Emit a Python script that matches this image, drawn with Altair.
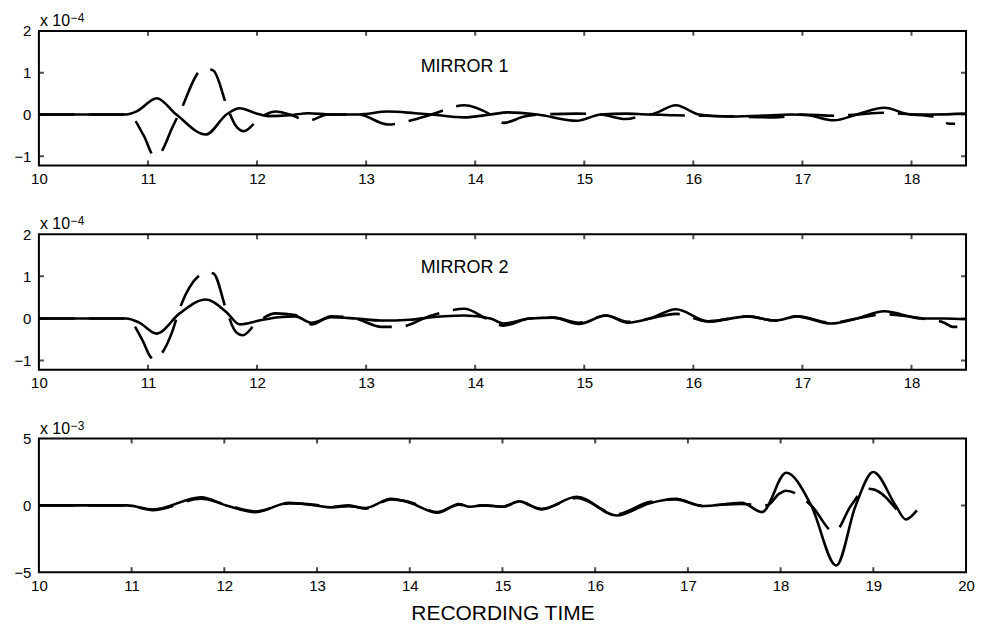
import altair as alt
import pandas as pd

FONT = "Liberation Sans"

# ---------------- MIRROR 1 (units of 1e-4) ----------------
M1_SOLID_T = [10.0, 10.8, 10.9, 11.08, 11.26, 11.53, 11.72, 11.84, 12.0, 12.1, 12.3, 12.47, 12.68,
              12.93, 13.2, 13.45, 13.6, 13.9, 14.14, 14.3, 14.57, 14.93, 15.15, 15.38, 15.6, 15.84,
              16.05, 16.3, 16.6, 16.9, 17.05, 17.29, 17.5, 17.75, 18.0, 18.2, 18.5]
M1_SOLID_V = [0.0, 0.0, 0.08, 0.39, 0.0, -0.48, 0.0, 0.15, 0.02, -0.04, -0.02, 0.03, 0.0,
              0.0, 0.07, 0.03, 0.0, -0.07, 0.0, 0.05, 0.0, -0.15, 0.0, 0.02, 0.0, 0.22,
              0.0, -0.05, -0.03, 0.0, -0.02, -0.14, 0.0, 0.16, 0.0, 0.0, 0.02]
M1_DASH_T = [10.0, 10.82, 10.96, 11.06, 11.12, 11.22, 11.3, 11.47, 11.53, 11.6, 11.73, 11.8, 11.88,
             12.0, 12.08, 12.17, 12.3, 12.47, 12.65, 12.93, 13.2, 13.4, 13.6, 13.9, 14.14, 14.26,
             14.45, 14.6, 14.93, 15.15, 15.38, 15.6, 15.84, 16.1, 16.4, 16.75, 17.0, 17.29, 17.5,
             17.75, 18.0, 18.2, 18.35, 18.4]
M1_DASH_V = [0.0, 0.0, -0.5, -1.0, -0.9, -0.33, 0.1, 1.03, 1.1, 1.05, 0.15, -0.25, -0.4,
             -0.15, 0.0, 0.07, 0.0, -0.15, 0.0, 0.0, -0.24, -0.15, 0.0, 0.22, 0.0, -0.2,
             -0.05, 0.0, 0.02, 0.0, -0.11, 0.0, -0.02, -0.03, -0.05, -0.07, 0.0, -0.03, 0.0,
             0.04, 0.0, -0.05, -0.22, -0.22]

# ---------------- MIRROR 2 (units of 1e-4) ----------------
M2_SOLID_T = [10.0, 10.8, 10.92, 11.08, 11.29, 11.53, 11.72, 11.84, 12.02, 12.2, 12.35, 12.5, 12.68,
              12.9, 13.14, 13.4, 13.6, 13.9, 14.14, 14.26, 14.5, 14.72, 14.95, 15.2, 15.4, 15.6,
              15.84, 16.14, 16.5, 16.75, 16.95, 17.26, 17.5, 17.75, 18.1, 18.3, 18.5]
M2_SOLID_V = [0.0, 0.0, -0.1, -0.36, 0.12, 0.45, 0.15, -0.14, -0.05, 0.03, 0.05, -0.1, 0.03,
              0.0, -0.05, -0.03, 0.03, 0.07, 0.0, -0.12, 0.0, 0.02, -0.13, 0.07, -0.1, 0.0,
              0.22, -0.07, 0.05, -0.05, 0.05, -0.12, 0.0, 0.17, 0.0, 0.0, -0.02]
M2_DASH_T = [10.0, 10.8, 10.95, 11.02, 11.06, 11.12, 11.22, 11.29, 11.47, 11.53, 11.6, 11.72, 11.8,
             11.87, 11.99, 12.17, 12.35, 12.5, 12.68, 12.9, 13.14, 13.3, 13.6, 13.9, 14.1, 14.26,
             14.5, 14.72, 14.95, 15.2, 15.4, 15.6, 15.84, 16.14, 16.5, 16.75, 16.95, 17.26, 17.5,
             17.75, 18.1, 18.3, 18.38, 18.42]
M2_DASH_V = [0.0, 0.0, -0.52, -0.9, -0.98, -0.85, -0.33, 0.23, 1.02, 1.1, 1.07, 0.19, -0.3,
             -0.4, -0.12, 0.12, 0.08, -0.14, 0.05, 0.0, -0.2, -0.2, 0.07, 0.23, 0.0, -0.17,
             0.0, 0.02, -0.1, 0.07, -0.08, 0.0, 0.11, -0.07, 0.05, -0.05, 0.05, -0.1, 0.0,
             0.1, 0.0, -0.1, -0.2, -0.2]

# ---------------- Bottom panel (units of 1e-3) ----------------
M3_SOLID_T = [10.0, 10.95, 11.23, 11.75, 12.02, 12.34, 12.7, 12.98, 13.16, 13.34, 13.52, 13.8, 14.0,
              14.3, 14.53, 14.65, 14.8, 15.0, 15.18, 15.42, 15.8, 16.23, 16.58, 16.87, 17.15, 17.58,
              17.8, 18.06, 18.33, 18.6, 18.81, 19.0, 19.24, 19.35, 19.47]
M3_SOLID_V = [0.0, 0.0, -0.3, 0.6, 0.0, -0.5, 0.2, 0.0, -0.15, -0.05, -0.2, 0.5, 0.2,
              -0.55, 0.1, -0.1, 0.0, -0.1, 0.3, -0.3, 0.65, -0.75, 0.15, 0.5, -0.05, 0.2,
              -0.5, 2.45, 0.0, -4.5, 0.0, 2.5, 0.0, -1.05, -0.37]
M3_DASH_T = [10.0, 10.95, 11.23, 11.75, 12.02, 12.34, 12.7, 12.98, 13.16, 13.34, 13.52, 13.8, 14.0,
             14.3, 14.53, 14.65, 14.8, 15.0, 15.18, 15.42, 15.8, 16.23, 16.58, 16.87, 17.15, 17.58,
             17.85, 17.99, 18.06, 18.33, 18.58, 18.76, 18.93, 19.0, 19.25]
M3_DASH_V = [0.0, 0.0, -0.35, 0.5, 0.05, -0.45, 0.15, 0.05, -0.1, 0.0, -0.25, 0.45, 0.25,
             -0.5, 0.05, -0.05, 0.0, -0.1, 0.25, -0.25, 0.55, -0.65, 0.25, 0.45, 0.0, 0.1,
             0.0, 0.9, 1.1, 0.0, -2.0, 0.0, 1.25, 1.2, -0.3]

TOP_X_LABELS = [10, 11, 12, 13, 14, 15, 16, 17, 18]
TOP_X_TICKS = [11, 12, 13, 14, 15, 16, 17, 18]
TOP_Y_LABELS = [-1, 0, 1, 2]
TOP_Y_TICKS = [-1, 0, 1]
BOT_X_LABELS = [10, 11, 12, 13, 14, 15, 16, 17, 18, 19, 20]
BOT_X_TICKS = [11, 12, 13, 14, 15, 16, 17, 18, 19]
BOT_Y_LABELS = [-5, 0, 5]
BOT_Y_TICKS = [0]

PANEL_W = 930


def panel(st, sv, dt, dv, xdom, ydom, xlabels, xticks, ylabels, yticks, exponent,
          label=None, label_pos=None, height=135, xtitle=None):
    xs = alt.Scale(domain=xdom, nice=False, zero=False)
    ys = alt.Scale(domain=ydom, nice=False, zero=False)
    xaxis_kw = dict(values=xlabels, labelFlush=False, labelOverlap=False, labelPadding=6)
    if xtitle:
        xaxis_kw.update(titleFontSize=21, titleFont=FONT, titleFontWeight="normal",
                        titlePadding=9, titleColor="black")
    xaxis = alt.Axis(**xaxis_kw)
    yaxis = alt.Axis(values=ylabels, labelPadding=8, labelOverlap=False, labelFlush=False)

    def enc():
        return dict(x=alt.X("t:Q", scale=xs, axis=xaxis, title=xtitle if xtitle else None),
                    y=alt.Y("v:Q", scale=ys, axis=yaxis, title=None))

    solid = alt.Chart(pd.DataFrame({"t": st, "v": sv})).mark_line(
        color="black", strokeWidth=2.6, interpolate="monotone").encode(**enc())
    dashed = alt.Chart(pd.DataFrame({"t": dt, "v": dv})).mark_line(
        color="black", strokeWidth=2.6, interpolate="monotone", strokeDash=[36, 14]).encode(**enc())

    tick_kw = dict(color="black", size=10, thickness=2, clip=True)
    layers = [solid, dashed]
    for yd in ydom:
        df = pd.DataFrame({"t": xticks, "v": [yd] * len(xticks)})
        layers.append(alt.Chart(df).mark_tick(orient="vertical", **tick_kw).encode(**enc()))
    for xd in xdom:
        df = pd.DataFrame({"t": [xd] * len(yticks), "v": yticks})
        layers.append(alt.Chart(df).mark_tick(orient="horizontal", **tick_kw).encode(**enc()))

    corner = pd.DataFrame({"t": [xdom[0]], "v": [ydom[1]]})
    layers.append(alt.Chart(corner).mark_text(text="x 10", font=FONT, fontSize=16, align="left",
                                              baseline="alphabetic", dx=1, dy=-5,
                                              color="black").encode(**enc()))
    layers.append(alt.Chart(corner).mark_text(text=exponent, font=FONT, fontSize=12, align="left",
                                              baseline="alphabetic", dx=32, dy=-9,
                                              color="black").encode(**enc()))
    if label:
        lab = pd.DataFrame({"t": [label_pos[0]], "v": [label_pos[1]]})
        layers.append(alt.Chart(lab).mark_text(text=label, font=FONT, fontSize=18, align="left",
                                               baseline="middle", color="black").encode(**enc()))
    return alt.layer(*layers).properties(width=PANEL_W, height=height)


p1 = panel(M1_SOLID_T, M1_SOLID_V, M1_DASH_T, M1_DASH_V, [10, 18.5], [-1.22, 2],
           TOP_X_LABELS, TOP_X_TICKS, TOP_Y_LABELS, TOP_Y_TICKS, "\u22124",
           label="MIRROR 1", label_pos=[13.5, 1.13], height=135)
p2 = panel(M2_SOLID_T, M2_SOLID_V, M2_DASH_T, M2_DASH_V, [10, 18.5], [-1.22, 2],
           TOP_X_LABELS, TOP_X_TICKS, TOP_Y_LABELS, TOP_Y_TICKS, "\u22124",
           label="MIRROR 2", label_pos=[13.5, 1.21], height=136)
p3 = panel(M3_SOLID_T, M3_SOLID_V, M3_DASH_T, M3_DASH_V, [10, 20], [-5, 5],
           BOT_X_LABELS, BOT_X_TICKS, BOT_Y_LABELS, BOT_Y_TICKS, "\u22123",
           height=134, xtitle="RECORDING TIME")

chart = alt.vconcat(p1, p2, p3, spacing=69, bounds="flush").properties(
    padding={"left": 4, "top": 2, "right": 0, "bottom": 0}
).configure_view(
    stroke="black", strokeWidth=2
).configure_axis(
    labelFont=FONT, labelFontSize=15, labelColor="black", domain=False, ticks=False,
    tickSize=0, grid=False
)

chart.save("out.html", embed_options={"renderer": "svg", "actions": False})
